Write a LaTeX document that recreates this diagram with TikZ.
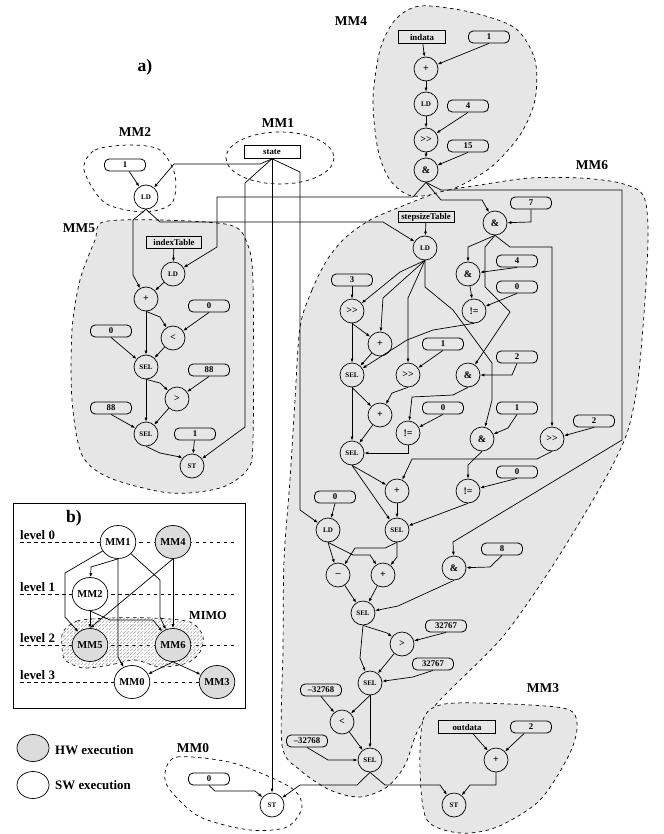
\documentclass[tikz,border=0pt]{standalone}
\usepackage{fontspec}
\setmainfont{Liberation Serif}
\usetikzlibrary{arrows.meta,shapes.geometric,patterns}
\definecolor{regiongray}{RGB}{230,230,230}
\definecolor{hwgray}{RGB}{220,220,220}
\tikzset{
  op/.style={circle, draw, line width=0.6pt, inner sep=0pt, minimum size=7.2mm,
    font=\fontsize{8.5}{8.5}\selectfont\bfseries},
  opsm/.style={op, font=\fontsize{6}{6}\selectfont\bfseries},
  cst/.style={draw, line width=0.7pt, rounded corners=1.4mm, inner sep=0pt,
    minimum width=12.3mm, minimum height=3.6mm, font=\fontsize{7.5}{7.5}\selectfont\bfseries},
  var/.style={draw, line width=0.8pt, inner sep=0pt, minimum height=3.8mm,
    font=\fontsize{7.5}{7.5}\selectfont\bfseries},
  region/.style={draw, dashed, line width=0.6pt, fill=regiongray},
  arr/.style={-{Latex[length=3.5pt,width=2.6pt]}, line width=0.6pt},
  mmnode/.style={ellipse, draw, line width=0.6pt, fill=white, inner sep=0pt,
    minimum width=10.2mm, minimum height=9.9mm, font=\fontsize{9}{9}\selectfont\bfseries},
  hw/.style={mmnode, fill=hwgray},
  lbl/.style={font=\fontsize{11.5}{11.5}\selectfont\bfseries},
  lvl/.style={anchor=base west, inner sep=0pt, font=\fontsize{11}{11}\selectfont\bfseries},
}

\begin{document}
\begin{tikzpicture}[x=0.3mm,y=-0.3mm]
\useasboundingbox (0,0) rectangle (663,834);

% ================= REGIONS =================
\draw[region] plot[smooth cycle] coordinates {(420,6) (470,12) (515,28) (535,60) (535,100)
  (520,135) (490,168) (450,190) (412,196) (390,180) (378,150) (373,100) (380,50) (395,20)};
\draw[region] plot[smooth cycle] coordinates {(300,327) (312,290) (327,260) (345,238) (370,220)
  (400,207) (440,192) (480,185) (530,178) (580,178) (620,183) (643,195) (648,230) (645,300)
  (638,380) (628,430) (610,470) (575,530) (540,585) (500,640) (440,700) (418,730) (405,765)
  (387,787) (360,797) (330,790) (300,770) (282,745) (283,650) (284,560) (290,480) (295,400)};
\draw[region] plot[smooth cycle] coordinates {(103,222) (160,220) (230,225) (247,243) (253,283)
  (253,440) (247,470) (220,488) (170,493) (110,478) (82,455) (72,400) (72,330) (80,280) (95,240)};
\draw[region] plot[smooth cycle] coordinates {(420,770) (423,720) (440,705) (480,703) (563,708)
  (577,723) (570,753) (540,800) (497,827) (460,833) (427,820)};
\draw[dashed, line width=0.6pt] plot[smooth cycle] coordinates {(84,170) (95,150) (130,145)
  (160,150) (175,175) (172,203) (145,212) (105,203)};
\draw[dashed, line width=0.6pt] (280,158) ellipse [x radius=54, y radius=26];
\draw[dashed, line width=0.6pt] plot[smooth cycle] coordinates {(165,773) (177,757) (233,763)
  (290,787) (302,807) (287,827) (250,830) (200,817) (170,790)};

% ================= LABELS =================
\node[font=\fontsize{15}{15}\selectfont\bfseries] (lbla) at (145,67) {a)};
\node[lbl] (lblmm2) at (135,132) {MM2};
\node[lbl] (lblmm1) at (278,123) {MM1};
\node[lbl] (lblmm4) at (351,21) {MM4};
\node[lbl] (lblmm6) at (592,165) {MM6};
\node[lbl] (lblmm5) at (79,228) {MM5};
\node[lbl] (lblmm3) at (543,688) {MM3};
\node[lbl] (lblmm0) at (193,748) {MM0};

% ================= MM2 / MM1 =================
\node[cst] (m2one) at (125,165) {1};
\node[opsm] (m2ld) at (146,197) {LD};
\node[var, minimum width=16.8mm] (state) at (272,152) {state};

% ================= MM4 =================
\node[var, minimum width=14.1mm] (m4in) at (422,37) {indata};
\node[cst] (m4one) at (489,37) {1};
\node[op] (m4add) at (426,69) {+};
\node[opsm] (m4ld) at (426,104) {LD};
\node[cst] (m4four) at (468,106) {4};
\node[op] (m4shr) at (426,140) {>\kern0pt>};
\node[cst] (m4fift) at (468,146) {15};
\node[op] (m4and) at (426,170) {\&};

% ================= MM5 =================
\node[var, minimum width=16.5mm, minimum height=3.6mm] (idxTab) at (174,242) {indexTable};
\node[opsm] (m5ld) at (173,274) {LD};
\node[op] (m5add) at (146,299) {+};
\node[cst] (m5zeroA) at (209,306) {0};
\node[op] (m5lt) at (173,338) {<};
\node[cst] (m5zeroB) at (111,331) {0};
\node[opsm] (m5selA) at (146,367) {SEL};
\node[cst] (m5eightA) at (209,370) {88};
\node[op] (m5gt) at (177,399) {>};
\node[cst] (m5eightB) at (111,408) {88};
\node[opsm] (m5selB) at (146,434) {SEL};
\node[cst] (m5one) at (195,434) {1};
\node[opsm] (m5st) at (192,466) {ST};

% ================= MM6 =================
\node[var, minimum width=16.8mm, minimum height=3.4mm] (sTab) at (426,217) {stepsizeTable};
\node[opsm] (m6ld) at (425,248) {LD};
\node[op] (andA) at (495,223) {\&};
\node[cst] (cSeven) at (531,203) {7};
\node[op] (andB) at (468,274) {\&};
\node[cst] (cFour) at (517,261) {4};
\node[cst] (cZeroA) at (517,287) {0};
\node[op] (neA) at (474,311) {!=};
\node[cst] (cThree) at (352,280) {3};
\node[op] (shrA) at (352,311) {>\kern0pt>};
\node[op] (addA) at (380,344) {+};
\node[opsm] (selA) at (352,375) {SEL};
\node[op] (shrB) at (408,375) {>\kern0pt>};
\node[cst] (cOneA) at (443,344) {1};
\node[op] (andC) at (468,375) {\&};
\node[cst] (cTwoA) at (517,357) {2};
\node[op] (addB) at (380,415) {+};
\node[op] (neB) at (408,433) {!=};
\node[cst] (cZeroB) at (443,408) {0};
\node[opsm] (selB) at (352,453) {SEL};
\node[op] (andD) at (482,439) {\&};
\node[cst] (cOneB) at (517,408) {1};
\node[op] (shrC) at (552,439) {>\kern0pt>};
\node[cst] (cTwoB) at (594,421) {2};
\node[op] (addC) at (397,491) {+};
\node[op] (neC) at (468,491) {!=};
\node[cst] (cZeroC) at (517,472) {0};
\node[cst] (cZeroD) at (335,497) {0};
\node[opsm] (m6ldb) at (328,530) {LD};
\node[opsm] (selC) at (397,530) {SEL};
\node[op] (sub) at (338,575) {--};
\node[op] (addD) at (383,575) {+};
\node[op] (andE) at (454,568) {\&};
\node[cst] (cEight) at (502,549) {8};
\node[opsm] (selD) at (363,613) {SEL};
\node[cst] (cMaxA) at (446,626) {32767};
\node[op] (gt) at (402,644) {>};
\node[cst] (cMaxB) at (433,664) {32767};
\node[opsm] (selE) at (370,683) {SEL};
\node[cst] (cMinA) at (321,690) {--32768};
\node[op] (lt) at (342,722) {<};
\node[cst] (cMinB) at (307,741) {--32768};
\node[opsm] (selF) at (370,760) {SEL};

% ================= MM3 / MM0 =================
\node[var, minimum width=17.1mm] (outdata) at (467,727) {outdata};
\node[cst] (m3two) at (531,727) {2};
\node[op] (m3add) at (496,760) {+};
\node[opsm] (m3st) at (454,805) {ST};
\node[cst] (m0zero) at (209,779) {0};
\node[opsm] (m0st) at (272,805) {ST};

% ================= EDGES =================
\draw[arr] (m2one) -- (m2ld);
\draw[arr] (state.south) -- (260,164) -- (174,164) -- (m2ld);
\draw[arr] (state.south) -- (245,183) -- (245,427) -- (m5st);
\draw[arr] (state.south) -- (m0st);
\draw[arr] (state.south) -- (300,172) -- (300,510) -- (m6ldb);

\draw[arr] (m4in) -- (m4add);
\draw[arr] (m4one.south) -- (m4add);
\draw[arr] (m4add) -- (m4ld);
\draw[arr] (m4ld) -- (m4shr);
\draw[arr] (m4four.south) -- (m4shr);
\draw[arr] (m4shr) -- (m4and);
\draw[arr] (m4fift.south) -- (m4and);
\draw[arr] (m4and.south) -- (413,197) -- (217,197) -- (217,247) -- (m5ld);
\draw[arr] (m4and.south) -- (441,190) -- (622,190) -- (622,440) -- (453,542) -- (andE);
\draw[arr] (m4and.south) -- (441,200) -- (482,200) -- (andA);

\draw[arr] (m2ld.south) -- (133,220) -- (133,275) -- (m5add);
\draw[arr] (m2ld.south) -- (160,222) -- (383,222) -- (m6ld);

\draw[arr] (idxTab) -- (m5ld);
\draw[arr] (m5ld) -- (m5add);
\draw[arr] (m5add) -- (m5selA);
\draw[arr] (m5add.south) -- (160,317) -- (m5lt);
\draw[arr] (m5zeroA.south) -- (m5lt);
\draw[arr] (m5zeroB.south) -- (m5selA);
\draw[arr] (m5lt) -- (m5selA);
\draw[arr] (m5selA) -- (m5selB);
\draw[arr] (m5selA.south) -- (160,383) -- (m5gt);
\draw[arr] (m5eightA.south) -- (m5gt);
\draw[arr] (m5eightB.south) -- (m5selB);
\draw[arr] (m5gt) -- (m5selB);
\draw[arr] (m5selB.south) -- (160,453) -- (180,457) -- (m5st);
\draw[arr] (m5one) -- (m5st);

\draw[arr] (sTab) -- (m6ld);
\draw[arr] (cSeven.south) -- (531,222) -- (andA);
\draw[arr] (andA.south) -- (468,247) -- (andB);
\draw[arr] (andA.south) -- (485,247) -- (485,287) -- (510,312) -- (andC);
\draw[arr] (andA.south) -- (510,247) -- (552,247) -- (shrC);
\draw[arr] (cFour.south) -- (andB);
\draw[arr] (andB) -- (neA);
\draw[arr] (cZeroA.south) -- (neA);
\draw[arr] (m6ld.south) -- (400,272) -- (shrA);
\draw[arr] (m6ld.south) -- (383,298) -- (addA);
\draw[arr] (m6ld.south) -- (408,298) -- (shrB);
\draw[arr] (m6ld.south) -- (425,287) -- (453,310) -- (492,363) -- (492,400) -- (andD);
\draw[arr] (cThree) -- (shrA);
\draw[arr] (shrA) -- (selA);
\draw[arr] (shrA.south) -- (addA);
\draw[arr] (addA) -- (selA);
\draw[arr] (neA.south) -- (433,330) -- (407,340) -- (selA);
\draw[arr] (cOneA.south) -- (shrB);
\draw[arr] (cTwoA.south) -- (512,375) -- (andC);
\draw[arr] (selA) -- (selB);
\draw[arr] (selA.south) -- (addB);
\draw[arr] (shrB.south) -- (392,393) -- (addB);
\draw[arr] (addB) -- (selB);
\draw[arr] (andC.south) -- (453,395) -- (412,397) -- (neB);
\draw[arr] (cZeroB.south) -- (neB);
\draw[arr] (neB.south) -- (408,453) -- (selB);
\draw[arr] (cOneB.south) -- (508,428) -- (andD);
\draw[arr] (cTwoB.south) -- (shrC);
\draw[arr] (shrC.south) -- (537,459) -- (412,459) -- (addC);
\draw[arr] (andD.south) -- (468,465) -- (neC);
\draw[arr] (cZeroC.south) -- (neC);
\draw[arr] (selB.south) -- (addC);
\draw[arr] (selB.south) -- (selC);
\draw[arr] (addC) -- (selC);
\draw[arr] (neC.south) -- (selC);
\draw[arr] (cZeroD.south) -- (m6ldb);
\draw[arr] (m6ldb.south) -- (sub);
\draw[arr] (m6ldb.south) -- (353,555) -- (370,555) -- (addD);
\draw[arr] (selC.south) -- (385,548) -- (355,548) -- (sub);
\draw[arr] (selC.south) -- (397,557) -- (addD);
\draw[arr] (cEight.south) -- (490,567) -- (andE);
\draw[arr] (sub) -- (selD);
\draw[arr] (addD) -- (selD);
\draw[arr] (andE.south) -- (398,606) -- (selD);
\draw[arr] (selD.south) -- (387,633) -- (gt);
\draw[arr] (selD.south) -- (360,658) -- (selE);
\draw[arr] (cMaxA.south) -- (gt);
\draw[arr] (gt) -- (selE);
\draw[arr] (cMaxB.south) -- (413,677) -- (selE);
\draw[arr] (selE.south) -- (lt);
\draw[arr] (selE) -- (selF);
\draw[arr] (cMinA.south) -- (lt);
\draw[arr] (lt) -- (selF);
\draw[arr] (cMinB.south) -- (328,760) -- (selF);
\draw[arr] (selF.south) -- (357,785) -- (300,785) -- (m0st);
\draw[arr] (selF.south) -- (385,785) -- (440,785) -- (m3st);

\draw[arr] (outdata) -- (m3add);
\draw[arr] (m3two) -- (m3add);
\draw[arr] (m3add.south) -- (496,785) -- (470,785) -- (m3st);
\draw[arr] (m0zero.south) -- (215,791) -- (255,791) -- (m0st);

% ================= b) LEVELS =================
\draw[line width=0.7pt] (13,503) rectangle (245,708);
\node[font=\fontsize{15}{15}\selectfont\bfseries] (lblb) at (74,518) {b)};
\draw[dashed, line width=0.5pt] (20,542) -- (237,542);
\draw[dashed, line width=0.5pt] (20,594) -- (237,594);
\draw[dashed, line width=0.5pt] (20,645) -- (237,645);
\draw[dashed, line width=0.5pt] (20,682) -- (237,682);
\node[lvl] (lv0) at (20,539) {level 0};
\node[lvl] (lv1) at (20,591) {level 1};
\node[lvl] (lv2) at (20,642) {level 2};
\node[lvl] (lv3) at (20,679) {level 3};
\draw[dashed, line width=0.5pt, pattern=north east lines, pattern color=gray!80]
  plot[smooth cycle] coordinates {(63,632) (77,621) (110,618) (153,618) (190,622) (203,636)
  (200,652) (187,663) (160,667) (135,660) (110,665) (83,668) (65,660) (62,646)};
\node[font=\fontsize{10.5}{10.5}\selectfont\bfseries] (lblmimo) at (208,615) {MIMO};

\node[mmnode] (bm1) at (118,542) {MM1};
\node[hw] (bm4) at (173,542) {MM4};
\node[mmnode] (bm2) at (90,594) {MM2};
\node[hw] (bm5) at (90,645) {MM5};
\node[hw] (bm6) at (173,645) {MM6};
\node[mmnode] (bm0) at (132,682) {MM0};
\node[hw] (bm3) at (217,682) {MM3};

\draw[arr] (bm1.south) -- (91,567) -- (bm2);
\draw[arr] (bm1) -- (65,573) -- (65,617) -- (bm5);
\draw[arr] (bm1.south) -- (118,657) -- (bm0);
\draw[arr] (bm1) -- (160,580) -- (160,617) -- (bm6);
\draw[arr] (bm4.south) -- (bm5.north);
\draw[arr] (bm4) -- (bm6);
\draw[arr] (bm2) -- (bm5);
\draw[arr] (bm2.south) -- (110,620) -- (153,620) -- (bm6);
\draw[arr] (bm6.south) -- (bm0);
\draw[arr] (bm6.south) -- (bm3);

% ================= LEGEND =================
\node[hw, minimum width=9.6mm, minimum height=8.1mm] (leghw) at (33,748) {};
\node[mmnode, minimum width=9.6mm, minimum height=8.1mm] (legsw) at (33,785) {};
\node[lvl, anchor=west] (txthw) at (55,750) {HW execution};
\node[lvl, anchor=west] (txtsw) at (55,785) {SW execution};

\end{tikzpicture}
\end{document}
